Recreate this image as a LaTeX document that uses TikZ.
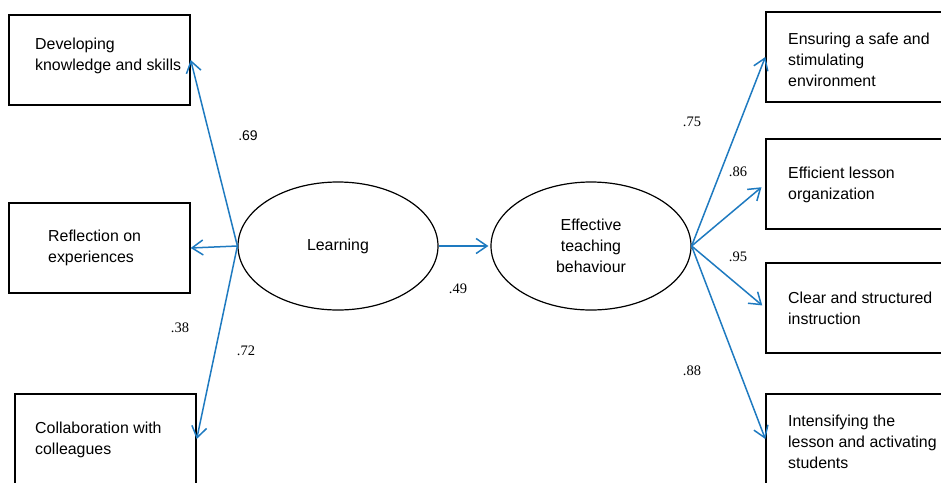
\documentclass[tikz,border=0pt]{standalone}
\usepackage{fontspec}
\setmainfont{Liberation Sans}
\newfontfamily\numfont{Liberation Serif}
\usetikzlibrary{shapes.geometric,arrows.meta}
\definecolor{pathblue}{RGB}{30,122,192}
\tikzstyle{box} = [draw,line width=1.4pt,minimum width=181pt,minimum height=90pt,inner sep=0pt]
\tikzstyle{txt} = [align=left,anchor=west,inner sep=0pt,font=\fontsize{15.9}{21}\selectfont]
\tikzstyle{latent} = [draw,ellipse,line width=1.2pt,minimum width=200pt,minimum height=128pt,inner sep=0pt,align=center,font=\fontsize{15.9}{21}\selectfont]
\tikzstyle{load} = [pathblue,line width=1.5pt,-{Straight Barb[length=11pt,width=15pt]}]
\tikzstyle{coef} = [inner sep=0pt,font=\numfont\fontsize{14.5}{16}\selectfont]

\begin{document}
\begin{tikzpicture}[x=1pt,y=-1pt]
  \useasboundingbox (0,0) rectangle (941,482);
  \node [box] (b1) at (99.5,60) {};
  \node [box] (b2) at (99.5,248) {};
  \node [box] (b3) at (105.5,439) {};
  \node [box] (b4) at (856.5,57) {};
  \node [box] (b5) at (856.5,184) {};
  \node [box] (b6) at (856.5,308) {};
  \node [box] (b7) at (856.5,439) {};
  \node [txt] (t1) at (35,56) {Developing\\knowledge and skills};
  \node [txt] (t2) at (48,248) {Reflection on\\experiences};
  \node [txt] (t3) at (35,440) {Collaboration with\\colleagues};
  \node [txt] (t4) at (788,60) {Ensuring a safe and\\stimulating\\environment};
  \node [txt] (t5) at (788,185) {Efficient lesson\\organization};
  \node [txt] (t6) at (788,308) {Clear and structured\\instruction};
  \node [txt] (t7) at (788,442) {Intensifying the\\lesson and activating\\students};
  \node [latent] (learn) at (338,246) {Learning};
  \node [latent] (etb) at (591,246) {Effective\\teaching\\behaviour};
  \draw [load] (learn.west) -- (b1.east);
  \draw [load] (learn.west) -- (b2.east);
  \draw [load] (learn.west) -- (b3.east);
  \draw [load,shorten >=2pt] (learn.east) -- (etb.west);
  \draw [load] (etb.east) -- (b4.west);
  \draw [load,shorten >=5pt] (etb.east) -- (b5.west);
  \draw [load,shorten >=4pt] (etb.east) -- (b6.west);
  \draw [load] (etb.east) -- (b7.west);
  \node [coef,font=\fontsize{14}{16}\selectfont] (c1) at (248,136) {.69};
  \node [coef] (c2) at (180,328) {.38};
  \node [coef] (c3) at (246,351) {.72};
  \node [coef] (c4) at (458,289) {.49};
  \node [coef] (c5) at (692,122) {.75};
  \node [coef] (c6) at (738,172) {.86};
  \node [coef] (c7) at (738,257) {.95};
  \node [coef] (c8) at (692,371) {.88};
\end{tikzpicture}
\end{document}
